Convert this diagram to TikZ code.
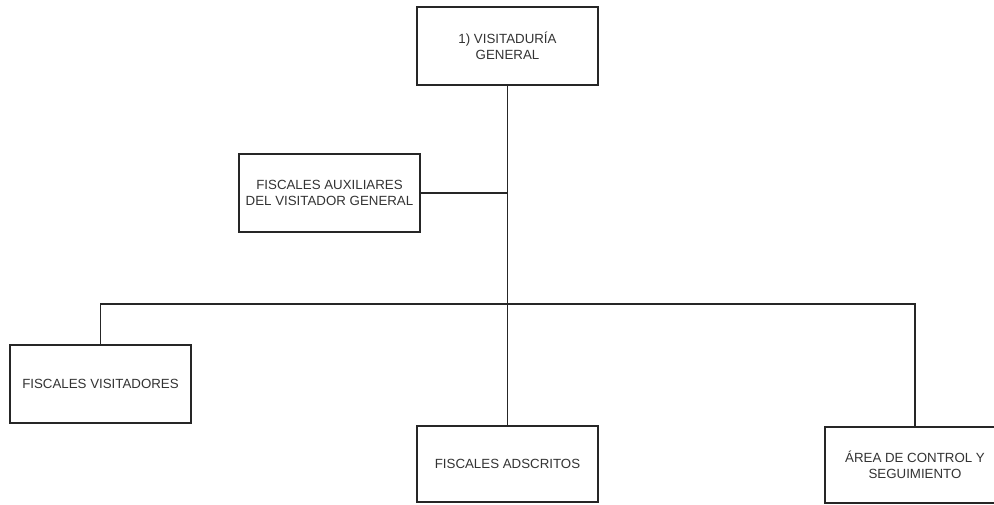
\documentclass[tikz,border=0pt]{standalone}
\usepackage{fontspec}
\setmainfont{Liberation Sans}
\begin{document}
\begin{tikzpicture}[x=1pt,y=1pt,
  orgbox/.style={draw=black!85, line width=1.3pt, fill=white, minimum width=181pt, minimum height=78pt,
    align=center, inner sep=0pt, text=black!80,
    font=\fontsize{13.3}{16.5}\selectfont},
  link/.style={draw=black!85, line width=1.2pt}]
\useasboundingbox (0,0) rectangle (994,-504);
\clip (0,0) rectangle (994,-504);
\node[orgbox] (top) at (507.5,-46) {1) VISITADURÍA\\GENERAL};
\node[orgbox] (aux) at (329.5,-193) {FISCALES AUXILIARES\\DEL VISITADOR GENERAL};
\node[orgbox] (vis) at (100.5,-384) {FISCALES VISITADORES};
\node[orgbox, minimum height=76pt] (ads) at (507.5,-464) {FISCALES ADSCRITOS};
\node[orgbox, minimum height=76pt, minimum width=180pt] (area) at (915,-465) {ÁREA DE CONTROL Y\\SEGUIMIENTO};
\coordinate (bus) at (507.5,-304);
\draw[link] (top.south) -- (ads.north);
\draw[link] (aux.east) -- (aux.east -| top.south);
\draw[link] (vis.north) -- (vis.north |- bus) -- (area.north |- bus) -- (area.north);
\end{tikzpicture}
\end{document}
